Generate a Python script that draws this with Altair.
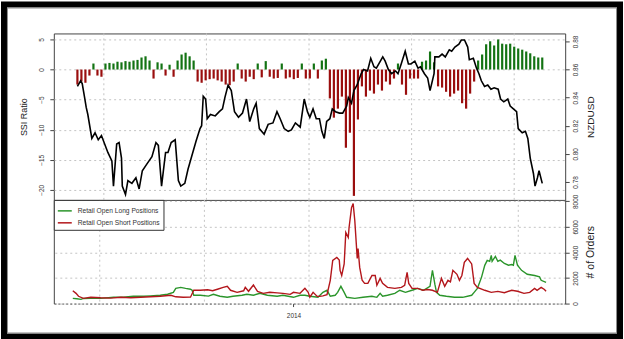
import altair as alt
import pandas as pd

# ---------------- data ----------------
START = "2013-04-06"  # first observation; x values below are days since START

ssi_days = list(range(0, 585, 5))
ssi_vals = [-2.5, -2.0, -2.2, -1.0, 1.0, -1.0, -1.2, 1.0, 1.1, 1.0,
            1.3, 1.2, 1.4, 1.3, 1.5, 1.6, 2.0, 2.2, 1.5, -1.5,
            1.2, 1.0, -1.0, 0.8, -1.2, 1.5, 2.5, 2.8, 2.2, 1.5,
            -2.0, -2.2, -1.8, -1.6, -1.5, -1.8, -2.0, -2.5, -2.6, -2.0,
            1.0, -1.5, -2.0, -1.2, -1.6, 1.0, -1.3, 1.4, -1.2, -1.5,
            -1.4, 1.0, -1.5, -1.3, -1.6, -1.4, 1.0, -1.5, -1.5, 1.0,
            -1.5, 1.5, 1.8, -4.8, -8.0, -6.5, -4.5, -13.0, -10.5, -21.0,
            -8.3, -2.8, -4.5, -3.5, -4.0, -2.5, -3.5, -2.0, -2.5, -1.5,
            1.0, -2.5, -4.2, -1.5, -1.5, -1.5, 1.3, 1.5, 3.0, 1.2,
            -2.8, -3.0, -3.7, -4.5, -4.0, -3.5, -5.6, -6.5, -4.0, -2.0,
            1.5, 2.5, 4.2, 4.7, 4.0, 5.0, 4.3, 4.2, 4.3, 3.8,
            3.5, 3.3, 3.0, 2.7, 2.2, 2.0, 2.0]

nzd_days = [0, 4, 6, 9, 11, 13, 18, 22, 26, 30,
            34, 38, 43, 45, 49, 52, 55, 56, 60, 63,
            68, 73, 77, 81, 87, 93, 98, 101, 105, 110,
            113, 117, 122, 126, 129, 134, 138, 142, 148, 153,
            155, 157, 160, 162, 166, 172, 177, 181, 184, 188,
            192, 196, 201, 206, 211, 215, 220, 223, 227, 233,
            238, 244, 249, 253, 258, 263, 267, 272, 278, 283,
            287, 290, 294, 298, 302, 305, 308, 311, 315, 318,
            322, 327, 331, 336, 338, 342, 345, 349, 354, 357,
            362, 366, 370, 373, 378, 381, 384, 388, 392, 397,
            400, 404, 409, 413, 416, 421, 425, 428, 433, 437,
            440, 445, 446, 451, 455, 459, 464, 467, 471, 476,
            479, 483, 487, 489, 494, 498, 501, 504, 508, 512,
            516, 520, 525, 528, 532, 537, 540, 544, 548, 550,
            555, 559, 562, 565, 569, 571, 574, 576, 580]
nzd_vals = [.848, .852, .850, .840, .833, .828, .811, .815, .810, .813,
            .807, .801, .795, .777, .807, .808, .797, .777, .771, .781,
            .779, .783, .775, .788, .793, .798, .808, .806, .777, .801,
            .801, .808, .810, .781, .777, .779, .789, .797, .809, .818,
            .820, .841, .839, .825, .828, .827, .830, .832, .840, .849,
            .845, .830, .826, .829, .839, .823, .832, .836, .818, .814,
            .821, .822, .830, .825, .818, .816, .817, .822, .819, .839,
            .830, .826, .832, .825, .825, .816, .811, .823, .825, .832,
            .830, .829, .829, .834, .840, .836, .845, .849, .857, .860,
            .859, .868, .862, .861, .866, .869, .866, .860, .857, .859,
            .857, .864, .873, .864, .864, .866, .861, .862, .857, .854,
            .845, .857, .869, .869, .871, .869, .874, .873, .876, .878,
            .881, .881, .876, .867, .868, .861, .857, .852, .848, .849,
            .846, .847, .846, .839, .837, .839, .834, .832, .830, .818,
            .815, .816, .811, .797, .786, .777, .783, .788, .779]

long_days = [0, 5, 10, 13, 22, 34, 50, 62, 74, 87,
             95, 107, 116, 123, 126, 132, 138, 144, 146, 148,
             156, 166, 172, 180, 189, 196, 207, 213, 221, 229,
             238, 250, 257, 270, 278, 284, 290, 300, 306, 311,
             315, 321, 324, 328, 332, 335, 345, 355, 366, 372,
             376, 379, 385, 394, 400, 407, 415, 422, 429, 437,
             440, 443, 445, 449, 457, 467, 477, 488, 491, 495,
             500, 504, 507, 510, 512, 513, 517, 520, 523, 528,
             533, 537, 539, 541, 544, 549, 556, 565, 571, 573,
             579]
long_vals = [410, 380, 330, 400, 410, 410, 490, 490, 570, 570,
             600, 650, 730, 880, 1190, 1270, 1190, 1120, 1040, 650,
             650, 580, 730, 570, 490, 570, 650, 730, 650, 800,
             650, 570, 650, 490, 650, 650, 570, 490, 880, 1040,
             570, 650, 880, 1350, 880, 490, 410, 490, 570, 490,
             800, 570, 650, 800, 1040, 880, 1040, 1190, 1040, 1350,
             2600, 1500, 880, 650, 570, 490, 490, 650, 880, 1190,
             2050, 2990, 3380, 3300, 3770, 3300, 3690, 3300, 3400, 3140,
             3000, 3050, 3000, 3770, 3000, 2600, 2290, 2200, 2100, 1820,
             1660]

short_days = [0, 4, 7, 13, 22, 34, 46, 59, 71, 83,
              95, 107, 120, 126, 135, 144, 148, 156, 165, 171,
              177, 184, 189, 193, 201, 209, 211, 215, 221, 226,
              233, 241, 250, 257, 266, 270, 278, 284, 288, 290,
              294, 299, 302, 306, 311, 315, 318, 323, 326, 327,
              329, 332, 334, 337, 338, 341, 343, 345, 348, 349,
              351, 354, 357, 361, 366, 370, 372, 376, 379, 385,
              394, 402, 406, 409, 411, 415, 422, 428, 434, 440,
              446, 451, 455, 459, 462, 465, 470, 473, 476, 479,
              483, 488, 491, 495, 504, 512, 520, 528, 537, 544,
              552, 559, 565, 568, 573, 577, 579]
short_vals = [1000, 800, 570, 410, 490, 450, 430, 490, 450, 490,
              530, 570, 650, 530, 490, 500, 1040, 1040, 1080, 1000,
              1120, 1270, 1350, 1040, 880, 1000, 1270, 960, 1450, 960,
              800, 880, 840, 800, 720, 880, 800, 1190, 880, 500,
              880, 560, 560, 600, 700, 1820, 3380, 3610, 3400, 2600,
              2200, 3100, 5560, 5170, 5950, 7510, 7820, 6500, 3530, 4310,
              2830, 1820, 1580, 1580, 2200, 2200, 1430, 1970, 1580, 1270,
              1190, 1270, 1430, 2440, 1580, 1190, 1190, 1040, 1100, 1040,
              880, 1970, 1350, 1820, 1700, 2600, 2290, 1820, 2200, 3220,
              3530, 3100, 1580, 1270, 1040, 880, 950, 850, 1040, 960,
              800, 880, 1190, 1040, 1270, 1100, 960]

series_names = ["Retail Open Long Positions", "Retail Open Short Positions"]
ssi_ticks = [5, 0, -5, -10, -15, -20]
nzd_ticks = [0.78, 0.80, 0.82, 0.84, 0.86, 0.88]
order_ticks = [0, 2000, 4000, 6000, 8000]
grid_days = [33, 161, 289, 417, 545]

# ---------------- helpers ----------------
start = pd.Timestamp(START)


def to_dates(days):
    return [(start + pd.Timedelta(days=d)).strftime("%Y-%m-%dT%H:%M:%S") for d in days]


def dt(days):
    t = start + pd.Timedelta(days=days)
    return alt.DateTime(year=t.year, month=t.month, date=t.day, hours=t.hour, minutes=t.minute)


FONT = "Liberation Sans"
GREEN_BAR = "#137313"
RED_BAR = "#9a0e0e"
GREEN_LINE = "#2b952b"
RED_LINE = "#b3161b"
GRID = "#c4c4c4"
W, H1, H2 = 513, 167, 104

x_scale = alt.Scale(domain=[dt(-23.2), dt(602.4)])

ssi_df = pd.DataFrame({"date": to_dates(ssi_days), "ssi": ssi_vals})
nzd_df = pd.DataFrame({"date": to_dates(nzd_days), "nzd": nzd_vals})
grid_df = pd.DataFrame({"date": to_dates(grid_days)})
pos_df = pd.concat([
    pd.DataFrame({"date": to_dates(long_days), "orders": long_vals, "series": series_names[0]}),
    pd.DataFrame({"date": to_dates(short_days), "orders": short_vals, "series": series_names[1]}),
])
one_df = pd.DataFrame({"k": [0]})

# ---------------- outer picture frame ----------------
outer = alt.Chart(one_df).mark_rect(fill="transparent", stroke="black", strokeWidth=6).encode(
    x=alt.value(-50), x2=alt.value(568), y=alt.value(-29), y2=alt.value(304))
inner = alt.Chart(one_df).mark_rect(fill="transparent", stroke="#8c8c8c", strokeWidth=1).encode(
    x=alt.value(-46.5), x2=alt.value(564.5), y=alt.value(-25.5), y2=alt.value(300.5))

vgrid_top = alt.Chart(grid_df).mark_rule(color=GRID, strokeDash=[2, 3], strokeWidth=1).encode(
    x=alt.X("date:T", scale=x_scale, axis=None))

# ---------------- top panel ----------------
bars = alt.Chart(ssi_df).mark_bar(size=2.2).encode(
    x=alt.X("date:T", scale=x_scale, axis=None),
    y=alt.Y("ssi:Q", scale=alt.Scale(domain=[-21.67, 6], nice=False, zero=False),
            axis=alt.Axis(orient="left", title="SSI Ratio", values=ssi_ticks, grid=True,
                          gridColor=GRID, gridDash=[2, 3], domain=False,
                          labelAngle=270, labelAlign="center", labelBaseline="bottom",
                          tickSize=4, labelPadding=5, labelFontSize=6.5,
                          titleFontSize=9, titlePadding=10)),
    color=alt.condition("datum.ssi > 0", alt.value(GREEN_BAR), alt.value(RED_BAR)),
)

nzd = alt.Chart(nzd_df).mark_line(color="black", strokeWidth=1.6).encode(
    x=alt.X("date:T", scale=x_scale, axis=None),
    y=alt.Y("nzd:Q", scale=alt.Scale(domain=[0.7672, 0.8857], nice=False, zero=False),
            axis=alt.Axis(orient="right", title="NZDUSD", values=nzd_ticks, format=".2f",
                          grid=False, domain=False,
                          labelAngle=270, labelAlign="center", labelBaseline="top",
                          tickSize=4, labelPadding=3, labelFontSize=6.5,
                          titleAngle=270, titleBaseline="top",
                          titleFontSize=10, titlePadding=7)),
)

top = alt.layer(outer, inner, vgrid_top, bars, nzd).resolve_scale(y="independent").properties(
    width=W, height=H1, view=alt.ViewBackground(stroke="#444", strokeWidth=1))

# ---------------- bottom panel ----------------
x_axis_bottom = alt.Axis(values=[alt.DateTime(year=2014, month=1, date=1)], format="%Y",
                         grid=False, title=None, domainDash=[2, 2], domainColor="#555",
                         tickSize=3, labelPadding=6, labelFontSize=6.5)
orders_scale = alt.Scale(domain=[0, 8110], nice=False)

vgrid_bottom = alt.Chart(grid_df).mark_rule(color=GRID, strokeDash=[2, 3], strokeWidth=1).encode(
    x=alt.X("date:T", scale=x_scale, axis=x_axis_bottom))

lines = alt.Chart(pos_df).mark_line(strokeWidth=1.4).encode(
    x=alt.X("date:T", scale=x_scale, axis=x_axis_bottom),
    y=alt.Y("orders:Q", scale=orders_scale,
            axis=alt.Axis(orient="right", title="# of Orders", values=order_ticks, format="d",
                          grid=True, gridColor=GRID, gridDash=[2, 3],
                          labelAngle=270, labelAlign="center", labelBaseline="top",
                          tickSize=4, labelPadding=3, labelFontSize=6.5,
                          titleAngle=270, titleBaseline="top",
                          titleFontSize=10.5, titlePadding=7)),
    color=alt.Color("series:N", scale=alt.Scale(domain=series_names, range=[GREEN_LINE, RED_LINE]),
                    legend=alt.Legend(title=None, orient="none", legendX=0, legendY=H1,
                                      fillColor="white", strokeColor="#333", padding=3,
                                      symbolType="stroke", symbolStrokeWidth=1.5, symbolSize=196,
                                      labelFontSize=6.7, labelFont=FONT, labelColor="#333",
                                      rowPadding=0, labelOffset=5)),
)

left_edge = alt.Chart(pos_df).mark_point(opacity=0).encode(
    x=alt.X("date:T", scale=x_scale, axis=x_axis_bottom),
    y=alt.Y("orders:Q", scale=orders_scale,
            axis=alt.Axis(orient="left", title=None, labels=False, ticks=False, grid=False,
                          domainColor="#444")),
)

bottom = alt.layer(vgrid_bottom, left_edge, lines).resolve_axis(y="independent").properties(
    width=W, height=H2)

chart = alt.vconcat(top, bottom, spacing=0, bounds="flush").properties(
    padding=0, background="white"
).configure_view(strokeWidth=0).configure_axis(
    labelFont=FONT, titleFont=FONT, labelColor="#333", titleColor="#222",
    tickColor="#444", domainColor="#444", titleFontWeight="normal"
)

chart.save("out.html", embed_options={"renderer": "svg", "actions": False})
